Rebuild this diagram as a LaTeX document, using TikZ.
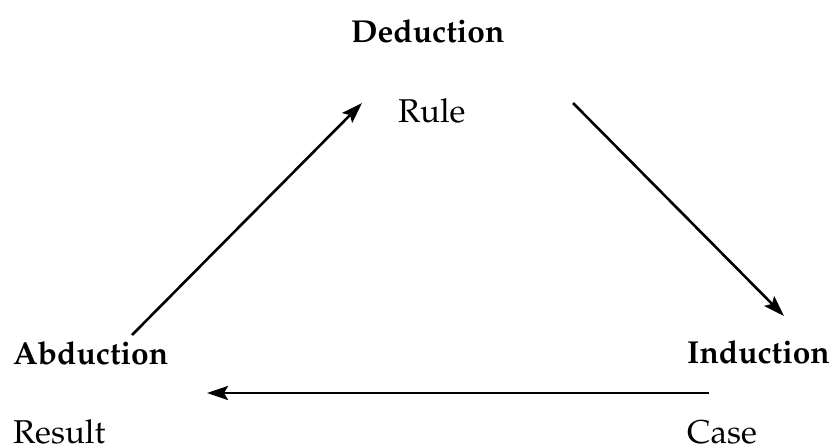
\documentclass[tikz,border=0pt]{standalone}
\usepackage[T1]{fontenc}
\renewcommand{\rmdefault}{ppl}
\usetikzlibrary{arrows.meta}
\begin{document}
\begin{tikzpicture}[x=1pt,y=-1pt,
  lbl/.style={inner sep=0pt,anchor=base west,font=\fontsize{33}{38}\selectfont},
  hd/.style={inner sep=0pt,anchor=base west,font=\fontsize{31.7}{36}\selectfont\bfseries},
  arr/.style={line width=2.6pt,-{Stealth[length=21pt,width=14pt,inset=4pt]}}]
\useasboundingbox (0,0) rectangle (833,447);
\node[hd] (ded) at (351,42) {Deduction};
\node[lbl] (rule) at (398,122) {Rule};
\node[hd] (abd) at (13,364) {Abduction};
\node[hd] (ind) at (687,363) {Induction};
\node[lbl] (res) at (13,443) {Result};
\node[lbl] (case) at (687,443) {Case};
\coordinate (a1) at (132,335);
\coordinate (a2) at (362,103);
\coordinate (b1) at (573,103);
\coordinate (b2) at (784,316);
\coordinate (c1) at (709,393);
\coordinate (c2) at (207,393);
\draw[arr] (a1) -- (a2);
\draw[arr] (b1) -- (b2);
\draw[arr] (c1) -- (c2);
\end{tikzpicture}
\end{document}
